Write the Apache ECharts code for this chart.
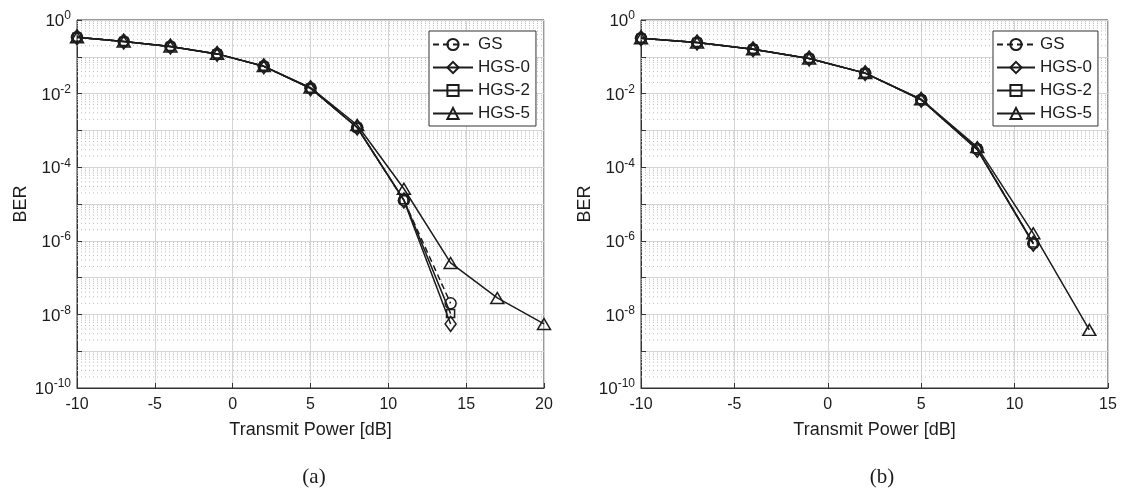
<!DOCTYPE html>
<html>
<head>
<meta charset="utf-8">
<script src="https://cdn.jsdelivr.net/npm/echarts@6/dist/echarts.min.js"></script>
<style>
html,body{margin:0;padding:0;background:#fff;}
#c{width:1122px;height:489px;}
</style>
</head>
<body>
<div id="c"></div>
<script>
// ---- data (a) ----
const xA = [-10, -7, -4, -1, 2, 5, 8, 11, 14];
const xA5 = [-10, -7, -4, -1, 2, 5, 8, 11, 14, 17, 20];
const berA_GS   = [0.34, 0.26, 0.19, 0.12, 0.055, 0.014, 0.0012, 1.25e-5, 2.0e-8];
const berA_HGS0 = [0.34, 0.26, 0.19, 0.12, 0.055, 0.014, 0.0012, 1.25e-5, 5.5e-9];
const berA_HGS2 = [0.34, 0.26, 0.19, 0.12, 0.055, 0.014, 0.0012, 1.3e-5, 1.05e-8];
const berA_HGS5 = [0.34, 0.26, 0.19, 0.12, 0.056, 0.0145, 0.0014, 2.6e-5, 2.5e-7, 2.8e-8, 5.5e-9];
// ---- data (b) ----
const xB = [-10, -7, -4, -1, 2, 5, 8, 11];
const xB5 = [-10, -7, -4, -1, 2, 5, 8, 11, 14];
const berB_GS   = [0.32, 0.245, 0.16, 0.09, 0.036, 0.0068, 3.1e-4, 8.5e-7];
const berB_HGS0 = [0.32, 0.245, 0.16, 0.09, 0.036, 0.0068, 3.0e-4, 8.3e-7];
const berB_HGS2 = [0.32, 0.245, 0.16, 0.09, 0.036, 0.0068, 3.1e-4, 8.7e-7];
const berB_HGS5 = [0.32, 0.245, 0.16, 0.09, 0.036, 0.0070, 3.5e-4, 1.6e-6, 3.8e-9];

const names = ['GS', 'HGS-0', 'HGS-2', 'HGS-5'];
const panelLabels = ['(a)', '(b)'];
const xLabel = 'Transmit Power [dB]';
const yLabel = 'BER';
const xMaxA = 20, xMaxB = 15, xMin = -10;

const INK = '#1c1c1c';
const zip = (xs, ys) => xs.map((x, i) => [x, ys[i]]);

// minor grid values 2..9 x 10^k (log-axis minor grid)
const minorVals = [];
for (let k = -10; k < 0; k++) for (let m = 2; m <= 9; m++) minorVals.push(m * Math.pow(10, k));

const styles = {
  'GS':    { symbol: 'circle',   symbolSize: 11, type: [6, 4] },
  'HGS-0': { symbol: 'diamond',  symbolSize: [11, 15], type: 'solid' },
  'HGS-2': { symbol: 'rect',     symbolSize: 8,  type: 'solid' },
  'HGS-5': { symbol: 'triangle', symbolSize: [13, 11], type: 'solid' }
};

function minorGridSeries(gi, xmax) {
  return minorVals.map(v => ({
    type: 'line', xAxisIndex: gi, yAxisIndex: gi, silent: true, z: 1,
    data: [[xMin, v], [xmax, v]], symbol: 'none', animation: false,
    lineStyle: { color: '#bdbdbd', width: 1, type: [1, 3] },
    emphasis: { disabled: true }, tooltip: { show: false }
  }));
}

function mkSeries(name, gi, data) {
  const s = styles[name];
  return {
    name, type: 'line', xAxisIndex: gi, yAxisIndex: gi, data,
    symbol: s.symbol, symbolSize: s.symbolSize, showSymbol: true,
    lineStyle: { color: INK, width: 1.5, type: s.type },
    itemStyle: { color: 'rgba(255,255,255,0)', borderColor: INK, borderWidth: 1.5 },
    animation: false, z: 3
  };
}

function xAxis(gi, max) {
  return {
    type: 'value', gridIndex: gi, min: xMin, max, interval: 5,
    name: xLabel, nameLocation: 'middle', nameGap: 33,
    nameTextStyle: { fontSize: 18, color: INK, fontFamily: 'Liberation Sans' },
    axisLine: { show: true, onZero: false, lineStyle: { color: '#333', width: 1 } },
    axisTick: { show: true, inside: true, length: 5, lineStyle: { color: '#333' } },
    axisLabel: { fontSize: 16, color: INK, margin: 9, fontFamily: 'Liberation Sans' },
    splitLine: { show: true, lineStyle: { color: '#d4d4d4', width: 1 } }
  };
}

function yAxis(gi) {
  return {
    type: 'log', gridIndex: gi, logBase: 10, min: 1e-10, max: 1, interval: 1,
    name: yLabel, nameLocation: 'middle', nameGap: 47,
    nameTextStyle: { fontSize: 18, color: INK, fontFamily: 'Liberation Sans' },
    axisLine: { show: true, onZero: false, lineStyle: { color: '#333', width: 1 } },
    axisTick: { show: true, inside: true, length: 5, lineStyle: { color: '#333' } },
    axisLabel: {
      color: INK, margin: 6, fontFamily: 'Liberation Sans',
      formatter: function (v) {
        const e = Math.round(Math.log10(v));
        if (e % 2 !== 0) return '';
        return '{b|10}{s|' + e + '}';
      },
      rich: {
        b: { fontSize: 17, color: INK, fontFamily: 'Liberation Sans', verticalAlign: 'bottom' },
        s: { fontSize: 12, color: INK, fontFamily: 'Liberation Sans', verticalAlign: 'bottom', padding: [0, 0, 8, 0] }
      }
    },
    splitLine: { show: true, lineStyle: { color: '#d4d4d4', width: 1 } }
  };
}

function legend(left, top, itemWidth) {
  return {
    orient: 'vertical', left, top, data: names,
    backgroundColor: '#fff', borderColor: '#333', borderWidth: 1,
    padding: [5, 6, 4, 3], itemGap: 6, itemWidth, itemHeight: 14,
    textStyle: { fontSize: 17, color: INK, fontFamily: 'Liberation Sans' },
    selectedMode: false
  };
}

const chart = echarts.init(document.getElementById('c'), null, { renderer: 'canvas' });
chart.setOption({
  backgroundColor: '#fff',
  animation: false,
  title: [
    { text: panelLabels[0], left: 309, top: 462, textAlign: 'center',
      textStyle: { fontFamily: 'Liberation Serif', fontSize: 21, fontWeight: 'normal', color: INK } },
    { text: panelLabels[1], left: 877, top: 462, textAlign: 'center',
      textStyle: { fontFamily: 'Liberation Serif', fontSize: 21, fontWeight: 'normal', color: INK } }
  ],
  grid: [
    { left: 77, right: 578, top: 20, bottom: 101, show: true, borderColor: '#333', borderWidth: 1, backgroundColor: 'transparent' },
    { left: 641, right: 14, top: 20, bottom: 101, show: true, borderColor: '#333', borderWidth: 1, backgroundColor: 'transparent' }
  ],
  xAxis: [xAxis(0, xMaxA), xAxis(1, xMaxB)],
  yAxis: [yAxis(0), yAxis(1)],
  legend: [legend(429, 31, 40), legend(993, 31, 38)],
  series: [].concat(
    minorGridSeries(0, xMaxA),
    minorGridSeries(1, xMaxB),
    [
      mkSeries('GS', 0, zip(xA, berA_GS)),
      mkSeries('HGS-0', 0, zip(xA, berA_HGS0)),
      mkSeries('HGS-2', 0, zip(xA, berA_HGS2)),
      mkSeries('HGS-5', 0, zip(xA5, berA_HGS5)),
      mkSeries('GS', 1, zip(xB, berB_GS)),
      mkSeries('HGS-0', 1, zip(xB, berB_HGS0)),
      mkSeries('HGS-2', 1, zip(xB, berB_HGS2)),
      mkSeries('HGS-5', 1, zip(xB5, berB_HGS5))
    ]
  )
});
</script>
</body>
</html>
